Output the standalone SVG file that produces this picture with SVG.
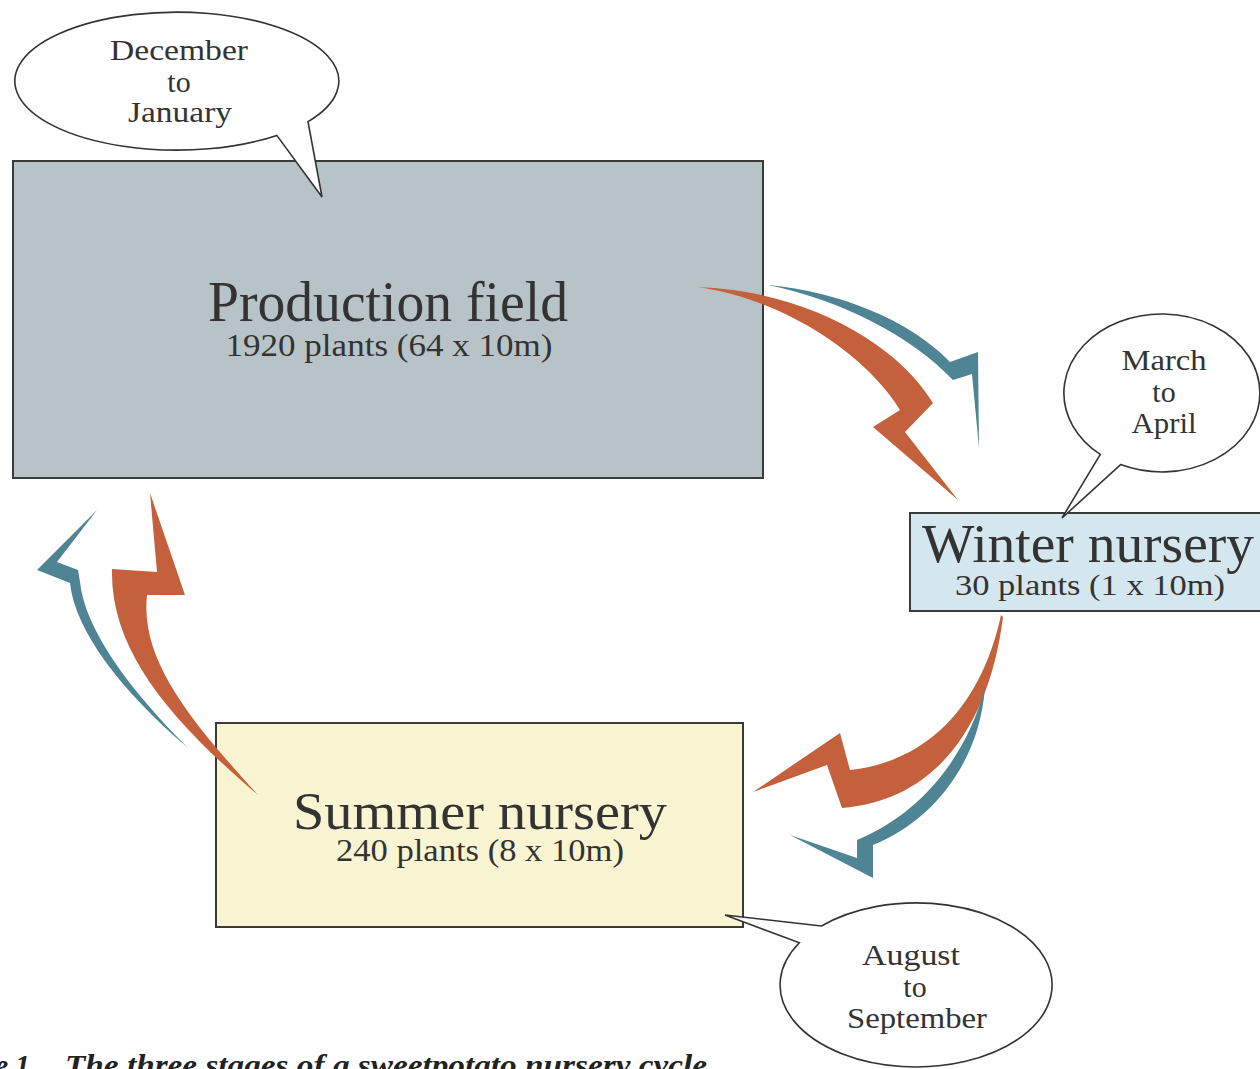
<svg xmlns="http://www.w3.org/2000/svg" width="1260" height="1069" viewBox="0 0 1260 1069">
<style>
.box{stroke:#3a3a3a;stroke-width:2}
.title{font-family:"Liberation Serif",serif;fill:#333;}
.bubble{fill:#fff;stroke:#333;stroke-width:1.6;stroke-linejoin:miter}
.btxt{font-family:"Liberation Serif",serif;fill:#333;font-size:30px;text-anchor:middle}
.orange{fill:#c4613c}
.blue{fill:#4f8494}
.cap{font-family:"Liberation Serif",serif;font-weight:bold;font-style:italic;fill:#222;font-size:29px}
</style>
<rect x="0" y="0" width="1260" height="1069" fill="#ffffff"/>
<g id="production-field">
<rect class="box" x="13" y="161" width="750" height="317" fill="#b7c3c7"/>
<text class="title" x="388" y="321" font-size="56" text-anchor="middle" textLength="360" lengthAdjust="spacingAndGlyphs">Production field</text>
<text class="title" x="389" y="356" font-size="31" text-anchor="middle" textLength="327" lengthAdjust="spacingAndGlyphs">1920 plants (64 x 10m)</text>
</g>
<g id="winter-nursery">
<rect class="box" x="910" y="513" width="356" height="98" fill="#d5e7ee"/>
<text class="title" x="1088" y="562" font-size="54" text-anchor="middle" textLength="332" lengthAdjust="spacingAndGlyphs">Winter nursery</text>
<text class="title" x="1090" y="595" font-size="30" text-anchor="middle" textLength="270" lengthAdjust="spacingAndGlyphs">30 plants (1 x 10m)</text>
</g>
<g id="summer-nursery">
<rect class="box" x="216" y="723" width="527" height="204" fill="#f9f4d2"/>
<text class="title" x="480" y="829" font-size="53" text-anchor="middle" textLength="374" lengthAdjust="spacingAndGlyphs">Summer nursery</text>
<text class="title" x="480" y="861" font-size="31" text-anchor="middle" textLength="288" lengthAdjust="spacingAndGlyphs">240 plants (8 x 10m)</text>
</g>
<g id="bubble-december">
<path class="bubble" d="M 276.8 135.4 L 322 197 L 308 121.6 A 162 69 0 1 0 276.8 135.4 Z"/>
<text class="btxt" x="179" y="60" textLength="138" lengthAdjust="spacingAndGlyphs">December</text>
<text class="btxt" x="179" y="92">to</text>
<text class="btxt" x="180" y="122" textLength="104" lengthAdjust="spacingAndGlyphs">January</text>
</g>
<g id="bubble-march">
<path class="bubble" d="M 1100.3 454.4 L 1062 518 L 1120.6 464.6 A 98 79 0 1 0 1100.3 454.4 Z"/>
<text class="btxt" x="1164" y="370" textLength="85" lengthAdjust="spacingAndGlyphs">March</text>
<text class="btxt" x="1164" y="402">to</text>
<text class="btxt" x="1164" y="433" textLength="65" lengthAdjust="spacingAndGlyphs">April</text>
</g>
<g id="bubble-august">
<path class="bubble" d="M 821.5 926 L 725 915 L 799.4 942.8 A 136 82 0 1 0 821.5 926 Z"/>
<text class="btxt" x="911" y="965" textLength="98" lengthAdjust="spacingAndGlyphs">August</text>
<text class="btxt" x="915" y="997">to</text>
<text class="btxt" x="917" y="1028" textLength="140" lengthAdjust="spacingAndGlyphs">September</text>
</g>
<g id="connectors">
<path class="blue" d="M768,285 C 840,292 910,320 950,362 L 978,352 L 979,448 L 972,374 L 953,380 C 910,335 840,300 768,285 Z"/>
<path class="orange" d="M697,287 C 800,290 895,340 933,403 L 905,432 L 958,500 L 873,427 L 900,410 C 870,360 790,300 697,287 Z"/>
<path class="orange" d="M1001,615 C 985,690 940,760 850,770 L 840,733 L 753,792 L 827,765 L 842,808 C 940,800 990,720 1003,617 Z"/>
<path class="blue" d="M985,687 C 980,760 935,820 873,845 L 873,878 L 790,835 L 857,858 L 857,840 C 925,812 968,752 985,687 Z"/>
<path class="orange" d="M258,795 C 190,720 140,660 147,595 L 185,595 L 150,493 L 157,572 L 112,569 C 110,650 170,720 258,795 Z"/>
<path class="blue" d="M188,748 C 130,690 85,630 80,582 L 78,570 L 57,562 L 97,510 L 37,570 L 70,583 C 75,630 120,690 188,748 Z"/>
</g>
<g id="caption">
<text class="cap" x="37" y="1075" text-anchor="end">Figure 1.</text>
<text class="cap" x="65" y="1075" textLength="642" lengthAdjust="spacingAndGlyphs">The three stages of a sweetpotato nursery cycle</text>
</g>
</svg>
